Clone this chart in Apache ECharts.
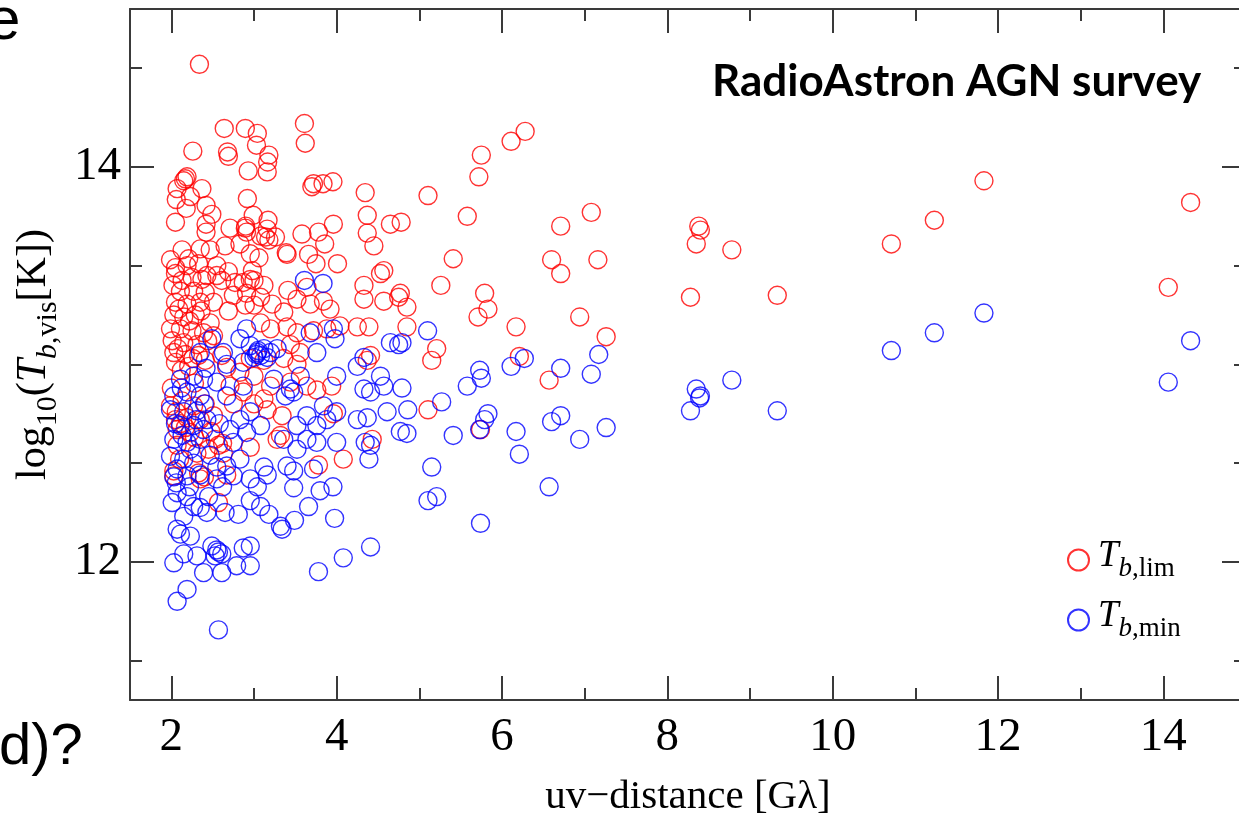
<!DOCTYPE html>
<html>
<head>
<meta charset="utf-8">
<title>RadioAstron AGN survey</title>
<script src="https://cdn.jsdelivr.net/npm/echarts@6/dist/echarts.min.js"></script>
<style>
  html, body { margin: 0; padding: 0; background: #ffffff; }
  #chart { width: 1239px; height: 822px; }
</style>
</head>
<body>
<div id="chart"></div>
<script>
// Brightness-temperature limits: [uv-distance (G lambda), log10 Tb (K)]
const tbLim = [
  [14.33,13.82],[14.06,13.39],[11.83,13.93],[11.23,13.73],[10.71,13.61],
  [9.33,13.35],[8.78,13.58],[8.35,13.61],[8.38,13.70],[8.40,13.68],[8.28,13.34],
  [7.26,13.14],[7.16,13.53],[7.08,13.77],[6.94,13.24],
  [6.71,13.70],[6.71,13.46],[6.60,13.53],[6.57,12.92],
  [6.28,14.18],[6.11,14.13],[6.21,13.04],[6.17,13.19],
  [5.83,13.28],[5.79,13.36],[5.75,14.06],[5.72,13.95],[5.71,13.24],[5.74,12.67],
  [5.58,13.75],[5.41,13.535],[5.26,13.40],[5.21,13.08],[5.15,13.02],[5.105,13.855],[5.105,12.77],
  [4.85,13.29],[4.85,13.19],[4.78,13.72],[4.65,13.71],[4.75,13.34],[4.57,13.32],[4.33,13.33],
  [4.25,13.19],[4.39,13.19],[4.41,13.045],[4.37,13.02],
  [4.345,13.87],[4.37,13.755],[4.37,13.665],[4.45,13.60],[4.53,13.46],[4.57,13.475],[4.33,13.40],[4.77,13.36],
  [4.43,12.62],[4.08,12.52],[3.78,12.49],[3.96,12.75],
  [2.34,14.52],
  [2.64,14.195],[2.895,14.195],[3.04,14.17],[3.61,14.22],[3.62,14.12],
  [2.26,14.08],[2.68,14.076],[2.69,14.054],[3.03,14.11],[3.18,14.06],[3.165,14.025],
  [2.93,13.98],[3.16,13.975],
  [2.19,13.95],[2.15,13.93],[2.17,13.94],
  [2.07,13.89],[2.37,13.89],[2.06,13.835],[2.23,13.85],[2.18,13.79],[2.42,13.805],[2.49,13.76],[2.05,13.72],[2.42,13.71],[2.42,13.67],
  [2.92,13.84],[2.99,13.755],[3.17,13.73],
  [2.71,13.69],[2.895,13.69],[2.90,13.70],[2.91,13.67],[3.16,13.685],[3.08,13.65],[3.14,13.645],[3.26,13.645],[3.18,13.63],
  [2.65,13.60],[2.83,13.61],[2.13,13.58],[2.35,13.585],[2.47,13.58],[3.40,13.557],[3.39,13.565],[2.955,13.56],[3.06,13.54],[2.21,13.535],
  [2.05,13.49],[2.19,13.50],[2.33,13.51],[2.55,13.50],[2.69,13.47],[2.98,13.475],[2.955,13.43],
  [3.58,13.66],[3.78,13.67],[3.96,13.71],[3.855,13.61],[3.66,13.557],[3.75,13.51],[4.01,13.51],
  [3.72,13.915],[3.835,13.915],[3.955,13.925],[3.70,13.90],
  [2.25,13.44],[2.37,13.43],[2.05,13.46],[2.55,13.45],[2.77,13.415],[3.00,13.425],[1.99,13.53],
  [2.13,13.425],[2.43,13.45],[2.61,13.425],[2.87,13.415],[3.12,13.40],[3.41,13.375],[3.64,13.39],
  [2.11,13.37],[2.27,13.37],[2.41,13.365],[2.05,13.315],[2.19,13.305],[2.35,13.315],[2.51,13.315],
  [2.03,13.25],[2.15,13.24],[2.29,13.25],[2.47,13.21],[1.99,13.18],[2.11,13.18],[2.25,13.17],[2.39,13.16],[2.51,13.145],
  [2.01,13.12],[2.15,13.11],[2.31,13.10],[2.03,13.06],[2.17,13.05],[2.33,13.045],[2.05,13.01],[2.21,12.99],[2.41,13.02],[2.61,13.045],[2.67,12.985],
  [2.02,13.40],[2.09,13.28],[2.22,13.22],[2.36,13.27],[2.44,13.12],[2.08,13.08],[2.26,13.03],[2.12,12.97],
  [2.75,13.35],[2.91,13.36],[3.08,13.34],[2.69,13.27],[2.895,13.30],[3.00,13.30],[3.22,13.305],[3.36,13.265],[3.52,13.33],[3.68,13.305],[3.84,13.32],[3.92,13.28],
  [3.08,13.21],[3.20,13.18],[3.40,13.19],[3.52,13.16],[3.72,13.17],[3.88,13.18],[4.04,13.195],
  [3.44,13.10],[3.56,13.06],[3.36,13.03],[3.52,13.00],[2.955,13.03],[2.83,12.96],[3.12,13.02],[3.00,12.94],
  [2.71,12.89],[2.87,12.86],[3.20,12.89],[3.12,12.825],[3.00,12.80],[3.44,12.91],[3.64,12.89],[3.76,12.87],[3.94,12.89],[3.34,12.74],[3.32,12.64],[3.16,12.77],
  [1.99,12.79],[2.13,12.815],[2.27,12.79],[2.41,12.80],[2.05,12.72],[2.19,12.73],[2.35,12.72],[2.51,12.74],
  [2.07,12.67],[2.23,12.655],[2.53,12.62],[2.57,12.59],[2.45,12.57],[2.63,12.55],[2.07,12.59],[2.31,12.55],
  [2.28,12.905],[2.00,12.88],[2.06,12.76],[2.17,12.68],[2.28,12.63],[2.48,12.66],[2.62,12.60],[2.10,12.52],
  [2.03,12.46],[2.33,12.45],[3.28,12.62],[2.75,12.80],[2.955,12.58],[2.11,12.70],
  [2.03,12.435],[2.35,12.42],[2.67,12.44],[2.57,12.30],[2.40,12.43]
];

// Minimum brightness temperatures: [uv-distance (G lambda), log10 Tb (K)]
const tbMin = [
  [14.33,13.12],[14.06,12.91],[11.83,13.26],[11.23,13.16],[10.71,13.07],
  [9.33,12.765],[8.78,12.92],[8.35,12.875],[8.39,12.83],[8.40,12.84],[8.28,12.765],
  [7.26,12.68],[7.17,13.05],[7.08,12.95],[6.94,12.62],[6.71,12.98],[6.71,12.74],[6.60,12.71],[6.57,12.38],
  [6.27,13.03],[6.11,12.99],[6.21,12.545],[6.17,12.66],
  [5.73,12.97],[5.75,12.93],[5.58,12.89],[5.83,12.75],[5.79,12.72],[5.73,12.67],[5.74,12.195],
  [5.41,12.64],[5.27,12.81],[5.10,13.17],[5.15,12.48],[5.21,12.33],[5.105,12.31],
  [4.79,13.11],[4.79,12.88],[4.86,12.77],[4.85,12.65],[4.77,12.66],
  [4.00,12.94],[4.25,12.99],[4.33,13.035],[4.53,12.94],[4.65,13.11],[4.75,13.10],[4.33,12.875],[4.41,12.86],
  [4.57,12.89],[4.61,12.76],[4.25,12.72],[4.37,12.73],[4.41,12.59],[4.345,12.605],[4.39,12.52],
  [3.61,13.425],[3.835,13.41],
  [2.83,13.13],[2.955,13.095],[3.04,13.06],[3.05,13.07],[3.03,13.05],[3.12,13.08],[3.08,13.045],[3.00,13.035],
  [3.16,13.035],[3.20,13.06],[2.91,13.18],[2.87,13.01],[3.28,13.08],[2.63,13.06],[2.67,13.00],
  [3.76,13.06],[3.96,13.18],[3.98,13.13],[3.68,13.16],[3.56,12.94],[3.44,12.875],[3.38,12.84],[3.48,12.86],[3.24,12.925],
  [2.87,12.89],[2.67,12.84],[2.955,12.76],[2.83,12.72],[3.08,12.69],[2.91,12.655],[3.36,12.62],[3.52,12.69],[3.64,12.74],
  [3.76,12.69],[3.88,12.72],[3.84,12.79],[4.00,12.76],[3.64,12.62],[3.52,12.57],[3.76,12.605],[4.00,12.605],
  [3.40,12.485],[3.12,12.48],[2.83,12.52],[2.75,12.605],
  [2.11,12.925],[2.27,12.94],[2.39,12.925],[2.55,12.91],[2.03,12.84],[2.19,12.86],[2.35,12.84],[1.99,12.77],
  [2.15,12.76],[2.31,12.765],[2.43,12.72],[2.11,12.69],[2.27,12.69],[2.39,12.67],[2.03,12.62],[2.19,12.605],
  [2.35,12.62],[1.99,12.535],[2.15,12.52],[2.27,12.50],[2.07,12.47],[2.67,12.485],[2.71,12.67],[2.49,13.13],[2.35,13.06],
  [2.05,12.70],[2.13,12.64],[2.23,12.57],[2.30,12.72],[2.40,12.80],[2.47,12.54],[2.55,12.48],[2.06,12.40],
  [2.22,12.38],[2.12,12.88],[2.42,12.98],[2.58,12.70],[2.62,12.38],[2.45,12.33],[2.65,12.25],
  [2.03,12.43],[2.19,12.435],[2.35,12.44],[2.55,12.42],[2.75,12.435],[2.955,12.42],[3.16,12.44],[3.04,12.38],
  [3.48,12.46],[3.72,12.47],[3.48,12.375],[3.80,12.36],[3.955,12.38],[3.66,12.28],
  [2.01,12.30],[2.07,12.35],[2.19,12.33],[2.27,12.28],[2.35,12.275],[2.43,12.25],[2.15,12.23],
  [2.07,12.165],[2.11,12.14],[2.23,12.13],[2.81,12.24],[3.08,12.28],[3.18,12.24],[2.955,12.31],
  [3.34,12.165],[3.32,12.18],[3.49,12.21],[3.975,12.22],[4.41,12.075],[4.08,12.02],[3.78,11.95],
  [2.49,12.08],[2.55,12.06],[2.61,12.04],[2.53,12.03],[2.57,12.05],[2.955,12.08],[2.87,12.07],
  [2.955,11.98],[2.79,11.98],[2.61,11.945],[2.39,11.945],[2.03,11.995],[2.15,12.04],[2.31,12.03],
  [2.19,11.86],[2.07,11.80],[2.57,11.655]
];

// Axis ranges and tick positions
const xRange = [1.5, 15];
const yRange = [11.3, 14.8];
const xMajorTicks = [2, 4, 6, 8, 10, 12, 14];
const xMinorTicks = [3, 5, 7, 9, 11, 13];
const yMajorTicks = [12, 14];
const yMinorTicks = [11.5, 12.5, 13, 13.5, 14.5];

const seriesNames = ['Tb,lim', 'Tb,min'];
const seriesColors = ['#ff0000', '#0000ff'];

const AXIS_COLOR = '#3a3a3a';
const SERIF = '"Liberation Serif", "DejaVu Serif", serif';

function axisSet(kind, position, ticks, tickLen, range, showLabels, showLine) {
  return {
    type: 'value',
    position: position,
    min: range[0],
    max: range[1],
    splitLine: { show: false },
    axisLine: { show: showLine, onZero: false, lineStyle: { color: AXIS_COLOR, width: 2 } },
    axisTick: {
      show: true, inside: true, length: tickLen,
      customValues: ticks,
      lineStyle: { color: AXIS_COLOR, width: 2 }
    },
    axisLabel: showLabels ? {
      show: true,
      customValues: ticks,
      fontFamily: SERIF,
      fontSize: 47,
      color: '#000000',
      margin: kind === 'x' ? 14 : 9
    } : { show: false },
    axisPointer: { show: false }
  };
}

const xAxes = [
  axisSet('x', 'bottom', xMajorTicks, 24, xRange, true, true),
  axisSet('x', 'bottom', xMinorTicks, 12, xRange, false, false),
  axisSet('x', 'top', xMajorTicks, 24, xRange, false, true),
  axisSet('x', 'top', xMinorTicks, 12, xRange, false, false)
];
xAxes[0].name = 'uv\u2212distance [G\u03bb]';
xAxes[0].nameLocation = 'middle';
xAxes[0].nameGap = 77;
xAxes[0].nameTextStyle = { fontFamily: SERIF, fontSize: 41, color: '#000000' };

const yAxes = [
  axisSet('y', 'left', yMajorTicks, 24, yRange, true, true),
  axisSet('y', 'left', yMinorTicks, 12, yRange, false, false),
  axisSet('y', 'right', yMajorTicks, 24, yRange, false, true),
  axisSet('y', 'right', yMinorTicks, 12, yRange, false, false)
];
yAxes[0].name = '{m|log}{s|10}{m|(}{i|T}{si|b}{s|,vis}{m|[K])}';
yAxes[0].nameLocation = 'middle';
yAxes[0].nameRotate = 90;
yAxes[0].nameGap = 63;
yAxes[0].nameTextStyle = {
  fontFamily: SERIF, fontSize: 42, color: '#000000',
  rich: {
    m:  { fontFamily: SERIF, fontSize: 42, verticalAlign: 'bottom', padding: [0, 0, 8, 0] },
    i:  { fontFamily: SERIF, fontSize: 42, fontStyle: 'italic', verticalAlign: 'bottom', padding: [0, 0, 8, 0] },
    s:  { fontFamily: SERIF, fontSize: 30, verticalAlign: 'bottom' },
    si: { fontFamily: SERIF, fontSize: 30, fontStyle: 'italic', verticalAlign: 'bottom' }
  }
};

const legendRich = {
  t:  { fontFamily: SERIF, fontSize: 37, fontStyle: 'italic', color: '#000', verticalAlign: 'bottom', padding: [0, 0, 7, 0] },
  bi: { fontFamily: SERIF, fontSize: 27, fontStyle: 'italic', color: '#000', verticalAlign: 'bottom' },
  s:  { fontFamily: SERIF, fontSize: 27, color: '#000', verticalAlign: 'bottom' }
};
function legendLabel(name) {
  const sub = name.split(',')[1];
  return '{t|T}{bi|b}{s|,' + sub + '}';
}
function makeLegend(name, top) {
  return {
    data: [name], left: 1062, top: top, orient: 'vertical',
    itemWidth: 21, itemHeight: 21, itemGap: 0, selectedMode: false,
    formatter: legendLabel,
    textStyle: { rich: legendRich, padding: [0, 0, 0, 4] }
  };
}

function makeSeries(i, data) {
  return {
    name: seriesNames[i], type: 'scatter', data: data,
    xAxisIndex: 0, yAxisIndex: 0,
    symbol: 'circle', symbolSize: 18,
    itemStyle: { color: 'rgba(0,0,0,0)', borderColor: seriesColors[i], borderWidth: 1.4 },
    emphasis: { disabled: true },
    silent: true, animation: false
  };
}

const chart = echarts.init(document.getElementById('chart'), null, { renderer: 'canvas' });
chart.setOption({
  backgroundColor: '#ffffff',
  animation: false,
  grid: { left: 130, top: 9, width: 1116, height: 691, containLabel: false, outerBoundsMode: 'none' },
  title: {
    text: 'RadioAstron AGN survey', left: 707, top: 55,
    textStyle: { fontFamily: 'Lato, "Open Sans", sans-serif', fontWeight: 'bold', fontSize: 44, color: '#000000' }
  },
  legend: [makeLegend(seriesNames[0], 533), makeLegend(seriesNames[1], 593)],
  xAxis: xAxes,
  yAxis: yAxes,
  series: [makeSeries(0, tbLim), makeSeries(1, tbMin)],
  graphic: [
    { type: 'text', left: -13, top: -8, silent: true,
      style: { text: 'e', font: '60px "Liberation Sans", Arial, sans-serif', fill: '#000000' } },
    { type: 'text', left: -1, top: 719, silent: true,
      style: { text: 'd)?', font: '58px "Liberation Sans", Arial, sans-serif', fill: '#000000' } }
  ]
});
</script>
</body>
</html>
